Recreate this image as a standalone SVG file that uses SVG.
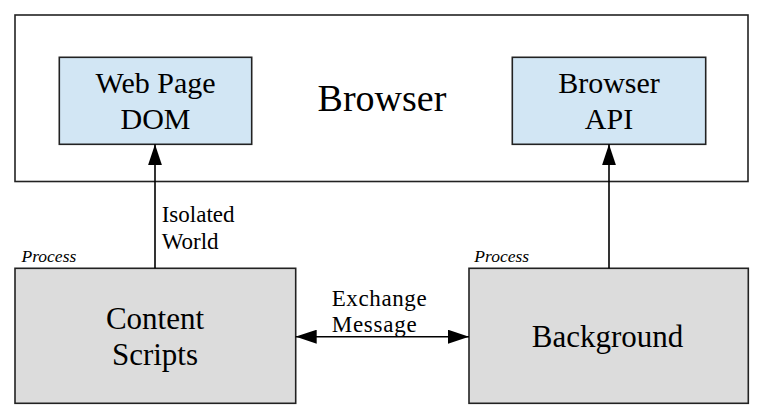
<svg xmlns="http://www.w3.org/2000/svg" width="767" height="416" viewBox="0 0 767 416">
<defs>
<marker id="ah" viewBox="0 0 21 14" refX="21" refY="7" markerWidth="21" markerHeight="14" markerUnits="userSpaceOnUse" orient="auto-start-reverse">
<path d="M0,0 L21,7 L0,14 Z" fill="#000"/>
</marker>
</defs>
<rect width="767" height="416" fill="#fff"/>
<g id="browser">
<rect x="15" y="15" width="733" height="166.5" fill="#fff" stroke="#222" stroke-width="1.6"/>
<text text-anchor="middle" font-family="Times New Roman" x="382" y="111" font-size="38">Browser</text>
</g>
<g id="webpage-dom">
<rect x="59.3" y="57.3" width="192.4" height="87" fill="#D2E6F4" stroke="#222" stroke-width="1.6"/>
<text text-anchor="middle" font-family="Times New Roman" x="155.5" y="92.5" font-size="30">Web Page</text>
<text text-anchor="middle" font-family="Times New Roman" x="155.5" y="128.5" font-size="30">DOM</text>
</g>
<g id="browser-api">
<rect x="512.3" y="57.3" width="193.4" height="87" fill="#D2E6F4" stroke="#222" stroke-width="1.6"/>
<text text-anchor="middle" font-family="Times New Roman" x="609" y="92.5" font-size="30">Browser</text>
<text text-anchor="middle" font-family="Times New Roman" x="609" y="128.5" font-size="30">API</text>
</g>
<g id="content-scripts">
<text font-family="Times New Roman" x="21.5" y="262.3" font-size="17.5" font-style="italic">Process</text>
<rect x="15" y="268.3" width="280.7" height="135" fill="#DCDCDC" stroke="#222" stroke-width="1.6"/>
<text text-anchor="middle" font-family="Times New Roman" x="155" y="328.5" font-size="31">Content</text>
<text text-anchor="middle" font-family="Times New Roman" x="155" y="364.5" font-size="31">Scripts</text>
</g>
<g id="background">
<text font-family="Times New Roman" x="474.3" y="262.3" font-size="17.5" font-style="italic">Process</text>
<rect x="469" y="268.3" width="279.3" height="135" fill="#DCDCDC" stroke="#222" stroke-width="1.6"/>
<text text-anchor="middle" font-family="Times New Roman" x="607.5" y="347" font-size="31">Background</text>
</g>
<g id="connectors" stroke="#000" stroke-width="1.6" fill="none">
<line x1="155" y1="268.3" x2="155" y2="144.3" marker-end="url(#ah)"/>
<line x1="609" y1="268.3" x2="609" y2="144.3" marker-end="url(#ah)"/>
<line x1="295.7" y1="336.7" x2="469" y2="336.7" marker-start="url(#ah)" marker-end="url(#ah)"/>
</g>
<g id="labels">
<text font-family="Times New Roman" x="161.7" y="222.3" font-size="23">Isolated</text>
<text font-family="Times New Roman" x="161.7" y="249" font-size="23">World</text>
<text font-family="Times New Roman" x="331.7" y="306" font-size="23" textLength="95" lengthAdjust="spacing">Exchange</text>
<text font-family="Times New Roman" x="331.7" y="331.7" font-size="23" textLength="85" lengthAdjust="spacing">Message</text>
</g>
</svg>
